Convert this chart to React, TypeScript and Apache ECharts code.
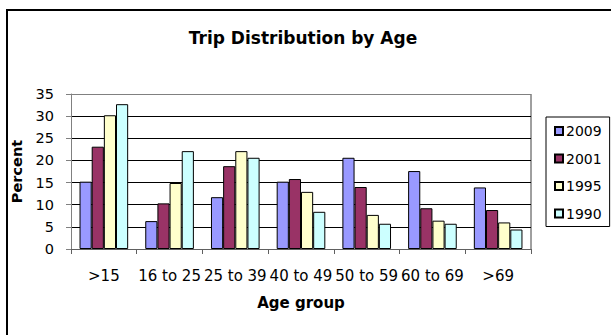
import React, { useEffect, useRef } from "react";
import * as echarts from "echarts";

const categories = [">15", "16 to 25", "25 to 39", "40 to 49", "50 to 59", "60 to 69", ">69"];
const seriesNames = ["2009", "2001", "1995", "1990"];
const values2009 = [15.2, 6.3, 11.7, 15.2, 20.6, 17.6, 13.9];
const values2001 = [23.1, 10.3, 18.7, 15.8, 14.0, 9.2, 8.8];
const values1995 = [30.2, 14.9, 22.1, 12.9, 7.7, 6.4, 6.0];
const values1990 = [32.7, 22.1, 20.6, 8.4, 5.7, 5.7, 4.4];
const seriesColors = ["#9999FF", "#993366", "#FFFFCC", "#CCFFFF"];

const FONT = "DejaVu Sans";

export default function App() {
  const ref = useRef<HTMLDivElement>(null);
  useEffect(() => {
    if (!ref.current) return;
    const chart = echarts.init(ref.current, undefined, { renderer: "svg" });
    const allValues = [values2009, values2001, values1995, values1990];
    chart.setOption({
      animation: false,
      backgroundColor: "#ffffff",
      title: {
        text: "Trip Distribution by Age",
        left: 303,
        top: 29,
        padding: 0,
        textAlign: "center",
        textStyle: { fontFamily: FONT, fontSize: 17, fontWeight: "bold", color: "#000" },
      },
      graphic: [
        {
          type: "rect",
          shape: { x: 7, y: 10, width: 700, height: 400 },
          style: { fill: "none", stroke: "#000", lineWidth: 2 },
          silent: true,
        },
        {
          type: "rect",
          shape: { x: 531, y: 94, width: 0, height: 155 },
          style: { fill: "none", stroke: "#808080", lineWidth: 1 },
          silent: true,
        },
      ],
      legend: {
        orient: "vertical",
        left: 546,
        top: 117,
        padding: [7, 8, 6, 8],
        itemWidth: 8,
        itemHeight: 8,
        itemGap: 13.5,
        borderColor: "#000",
        borderWidth: 1,
        icon: "rect",
        data: seriesNames,
        textStyle: { fontFamily: FONT, fontSize: 14, color: "#000", lineHeight: 14, padding: [0, 0, 0, -2] },
      },
      grid: {
        left: 71,
        right: 80,
        top: 94,
        bottom: 86,
        show: false,
      },
      xAxis: {
        type: "category",
        data: categories,
        name: "Age group",
        nameLocation: "middle",
        nameGap: 46,
        nameTextStyle: { fontFamily: FONT, fontSize: 15, fontWeight: "bold", color: "#000" },
        axisLine: { lineStyle: { color: "#606060", width: 1 } },
        axisTick: { show: true, length: 5, lineStyle: { color: "#606060" } },
        axisLabel: { fontFamily: FONT, fontSize: 15, color: "#000", margin: 19, interval: 0 },
        splitLine: { show: false },
        minorSplitLine: { show: false },
        splitArea: { show: false },
      },
      yAxis: {
        type: "value",
        min: 0,
        max: 35,
        interval: 5,
        name: "Percent",
        nameLocation: "middle",
        nameGap: 44,
        nameRotate: 90,
        nameTextStyle: { fontFamily: FONT, fontSize: 14.5, fontWeight: "bold", color: "#000" },
        axisLine: { show: true, lineStyle: { color: "#808080", width: 1 } },
        axisTick: { show: true, length: 5, lineStyle: { color: "#808080" } },
        axisLabel: { fontFamily: FONT, fontSize: 14.5, color: "#000", margin: 17 },
        splitLine: {
          show: true,
          lineStyle: {
            color: ["#606060", "#000", "#000", "#000", "#000", "#000", "#000", "#808080"],
            width: 1,
          },
        },
      },
      series: seriesNames.map((name, i) => ({
        name,
        type: "bar",
        data: allValues[i],
        barGap: "0%",
        barCategoryGap: "26%",
        itemStyle: { color: seriesColors[i], borderColor: "#000", borderWidth: 1 },
      })),
    });
    return () => chart.dispose();
  }, []);
  return (
    <div
      ref={ref}
      style={{ position: "fixed", left: 0, top: 0, width: 611, height: 335 }}
    />
  );
}
